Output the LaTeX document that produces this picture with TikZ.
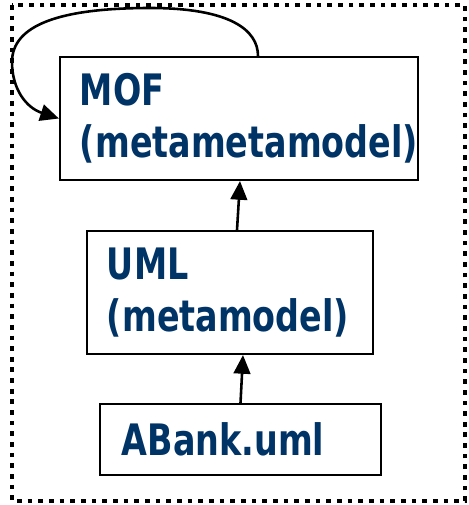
\documentclass[tikz,border=0pt]{standalone}
\usepackage{fontspec}
\newfontfamily\boxfont[FakeStretch=0.77]{DejaVu Sans Bold}
\usetikzlibrary{arrows.meta}
\definecolor{modelblue}{RGB}{0,51,102}
\tikzset{level/.style={draw=black, line width=1.8pt, fill=white, align=left,
                       text=modelblue, font=\boxfont\fontsize{37}{44}\selectfont},
        link/.style={line width=2.2pt, -{Triangle[length=0.56cm,width=0.5cm]}},
        frame/.style={line width=4pt, dash pattern=on 4pt off 5.1pt},
        }

\begin{document}
\begin{tikzpicture}[x=0.03cm, y=-0.03cm]
    \useasboundingbox (0,0) rectangle (468,505);
    \draw [frame] (12,5) rectangle (465,501);

    \node [level, text width=9.54cm, inner xsep=0.6cm, minimum height=3.69cm] (mof) at (239,118.5)
        {MOF\\(metametamodel)};
    \node [level, text width=7.38cm, inner xsep=0.6cm, minimum height=3.69cm] (uml) at (230,292.5)
        {UML\\(metamodel)};
    \node [level, text width=7.11cm, inner xsep=0.66cm, minimum height=2.13cm] (abank) at (240.5,439.5)
        {ABank.uml};

    \draw [link] ([xshift=0.21cm]uml.north) -- ([xshift=0.03cm]mof.south);
    \draw [link] (abank.north) -- ([xshift=0.39cm]uml.south);

    \draw [link] ([xshift=0.57cm]mof.north) .. controls (258,30) and (230,8) .. (150,8)
        .. controls (60,8) and (12,25) .. (12,62)
        .. controls (12,90) and (27,108) .. (mof.west);
\end{tikzpicture}
\end{document}
